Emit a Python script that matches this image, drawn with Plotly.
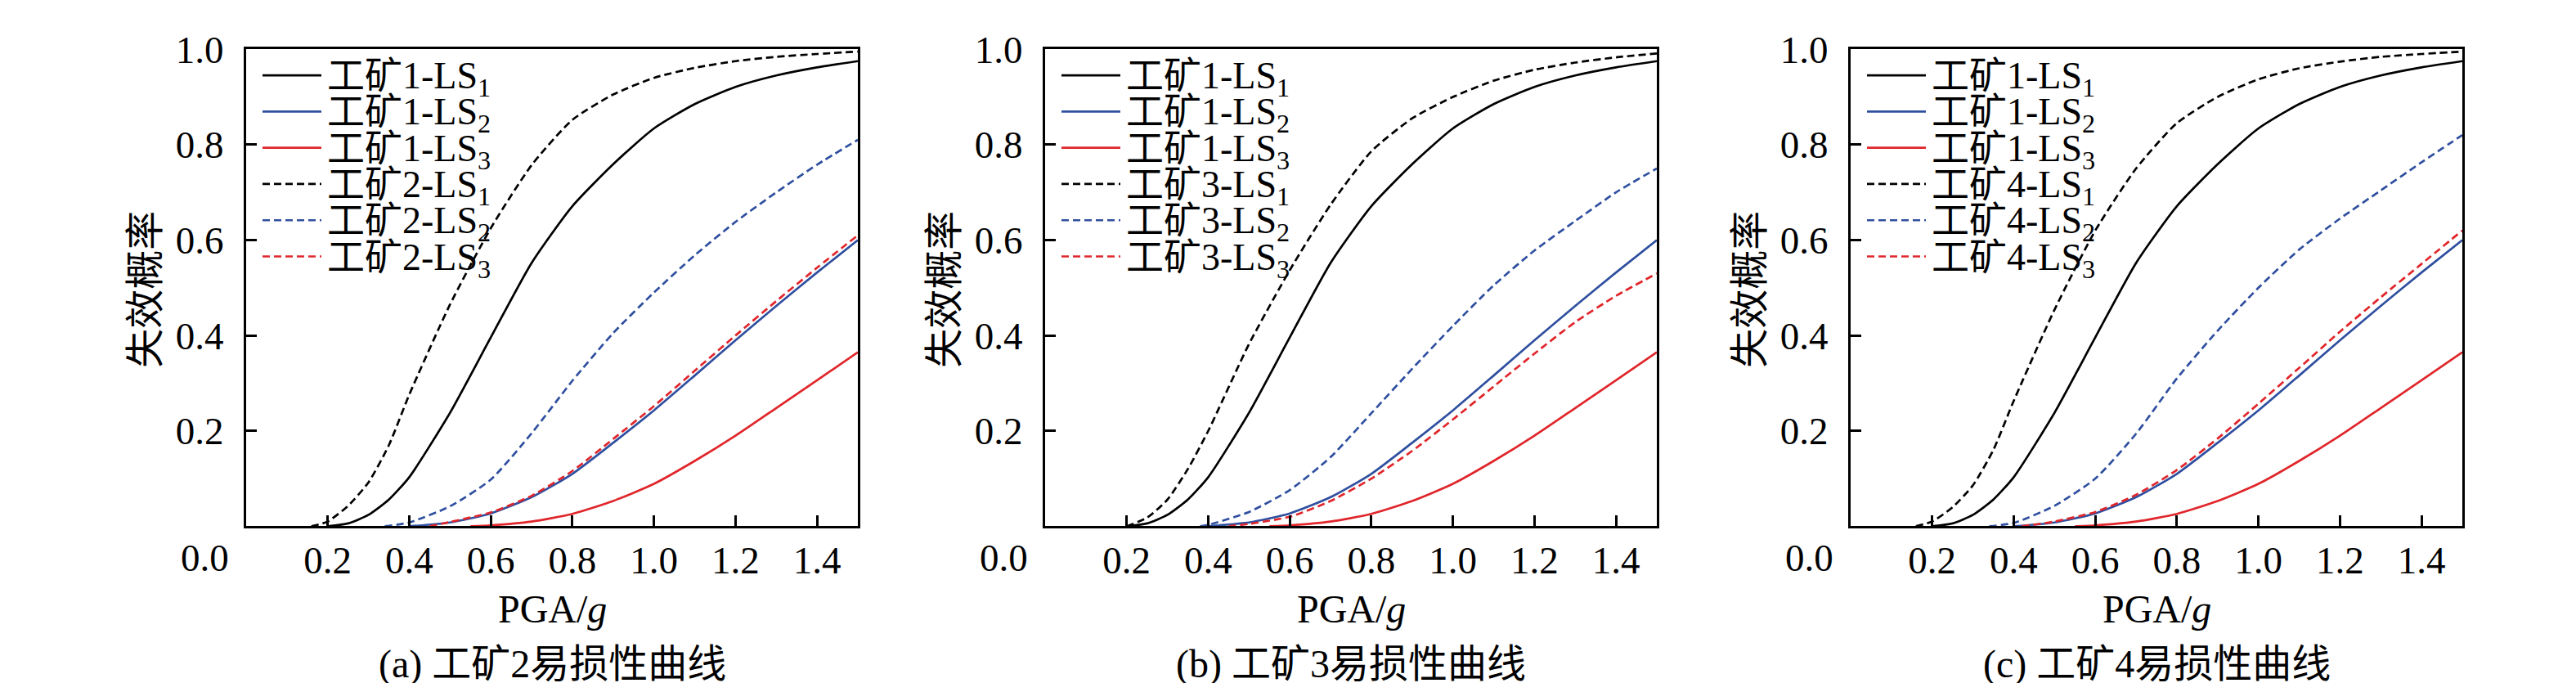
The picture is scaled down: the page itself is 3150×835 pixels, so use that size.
import plotly.graph_objects as go

# ---------------- data ----------------
x_m1_ls1 = [0.2, 0.25, 0.3, 0.35, 0.4, 0.5, 0.6, 0.7, 0.8, 0.9, 1.0, 1.1, 1.2, 1.3, 1.4, 1.5]
y_m1_ls1 = [0.0, 0.006, 0.024, 0.056, 0.103, 0.238, 0.396, 0.552, 0.671, 0.759, 0.834, 0.885, 0.921, 0.945, 0.962, 0.975]
x_m1_ls2 = [0.4, 0.5, 0.6, 0.7, 0.8, 0.9, 1.0, 1.1, 1.2, 1.3, 1.4, 1.5]
y_m1_ls2 = [0.0, 0.008, 0.027, 0.061, 0.11, 0.175, 0.243, 0.316, 0.39, 0.462, 0.532, 0.60]
x_m1_ls3 = [0.55, 0.6, 0.7, 0.8, 0.9, 1.0, 1.1, 1.2, 1.3, 1.4, 1.5]
y_m1_ls3 = [0.0, 0.002, 0.01, 0.026, 0.053, 0.089, 0.137, 0.19, 0.248, 0.306, 0.365]

x_m2_ls1 = [0.16, 0.2, 0.25, 0.3, 0.35, 0.4, 0.5, 0.6, 0.7, 0.8, 0.9, 1.0, 1.1, 1.2, 1.3, 1.4, 1.5]
y_m2_ls1 = [0.0, 0.01, 0.043, 0.092, 0.17, 0.276, 0.465, 0.625, 0.757, 0.852, 0.905, 0.94, 0.961, 0.975, 0.984, 0.99, 0.995]
x_m2_ls2 = [0.34, 0.4, 0.5, 0.6, 0.7, 0.8, 0.9, 1.0, 1.1, 1.2, 1.3, 1.4, 1.5]
y_m2_ls2 = [0.0, 0.008, 0.042, 0.098, 0.195, 0.305, 0.405, 0.49, 0.568, 0.638, 0.70, 0.758, 0.81]
x_m2_ls3 = [0.45, 0.5, 0.6, 0.7, 0.8, 0.9, 1.0, 1.1, 1.2, 1.3, 1.4, 1.5]
y_m2_ls3 = [0.0, 0.009, 0.029, 0.064, 0.116, 0.183, 0.252, 0.326, 0.40, 0.472, 0.542, 0.61]

x_m3_ls1 = [0.2, 0.25, 0.3, 0.35, 0.4, 0.5, 0.6, 0.7, 0.8, 0.9, 1.0, 1.1, 1.2, 1.3, 1.4, 1.5]
y_m3_ls1 = [0.0, 0.018, 0.056, 0.12, 0.20, 0.382, 0.537, 0.674, 0.786, 0.855, 0.90, 0.934, 0.957, 0.972, 0.983, 0.991]
x_m3_ls2 = [0.38, 0.4, 0.5, 0.6, 0.7, 0.8, 0.9, 1.0, 1.1, 1.2, 1.3, 1.4, 1.5]
y_m3_ls2 = [0.0, 0.003, 0.03, 0.076, 0.145, 0.237, 0.33, 0.42, 0.505, 0.578, 0.64, 0.70, 0.75]
x_m3_ls3 = [0.45, 0.5, 0.6, 0.7, 0.8, 0.9, 1.0, 1.1, 1.2, 1.3, 1.4, 1.5]
y_m3_ls3 = [0.0, 0.005, 0.02, 0.053, 0.10, 0.158, 0.224, 0.293, 0.362, 0.428, 0.483, 0.53]

x_m4_ls1 = [0.16, 0.2, 0.25, 0.3, 0.35, 0.4, 0.5, 0.6, 0.7, 0.8, 0.9, 1.0, 1.1, 1.2, 1.3, 1.4, 1.5]
y_m4_ls1 = [0.0, 0.01, 0.04, 0.086, 0.16, 0.263, 0.454, 0.62, 0.75, 0.845, 0.90, 0.937, 0.96, 0.974, 0.984, 0.99, 0.995]
x_m4_ls2 = [0.34, 0.4, 0.5, 0.6, 0.7, 0.8, 0.9, 1.0, 1.1, 1.2, 1.3, 1.4, 1.5]
y_m4_ls2 = [0.0, 0.007, 0.043, 0.10, 0.194, 0.31, 0.41, 0.50, 0.58, 0.645, 0.704, 0.763, 0.82]
x_m4_ls3 = [0.42, 0.5, 0.6, 0.7, 0.8, 0.9, 1.0, 1.1, 1.2, 1.3, 1.4, 1.5]
y_m4_ls3 = [0.0, 0.01, 0.03, 0.066, 0.118, 0.184, 0.257, 0.332, 0.408, 0.48, 0.55, 0.62]

x_tick_vals = [0.2, 0.4, 0.6, 0.8, 1.0, 1.2, 1.4]
x_tick_text = ["0.2", "0.4", "0.6", "0.8", "1.0", "1.2", "1.4"]
y_tick_vals = [0.2, 0.4, 0.6, 0.8, 1.0]
y_tick_text = ["0.2", "0.4", "0.6", "0.8", "1.0"]
panel_mines = ["2", "3", "4"]
panel_titles = ["(a) 工矿2易损性曲线", "(b) 工矿3易损性曲线", "(c) 工矿4易损性曲线"]
x_title = "PGA/<i>g</i>"
y_title = "失效概率"

# ---------------- styling ----------------
W, H = 3150, 835
FONT = "Liberation Serif, Noto Sans CJK SC, serif"
BLACK, BLUE, RED = "#000000", "#2f4f9f", "#e0262b"
DASH = "9px,5px"
panel_px = [(293, 1041), (1270, 2018), (2255, 3003)]
top_px, bot_px = 27, 629
TICK_SIZE, TITLE_SIZE, LEG_SIZE = 47, 48, 46

base_series = [
    (x_m1_ls1, y_m1_ls1, BLACK, "solid", "工矿1-LS<sub>1</sub>"),
    (x_m1_ls2, y_m1_ls2, BLUE, "solid", "工矿1-LS<sub>2</sub>"),
    (x_m1_ls3, y_m1_ls3, RED, "solid", "工矿1-LS<sub>3</sub>"),
]
other = {
    "2": [(x_m2_ls1, y_m2_ls1), (x_m2_ls2, y_m2_ls2), (x_m2_ls3, y_m2_ls3)],
    "3": [(x_m3_ls1, y_m3_ls1), (x_m3_ls2, y_m3_ls2), (x_m3_ls3, y_m3_ls3)],
    "4": [(x_m4_ls1, y_m4_ls1), (x_m4_ls2, y_m4_ls2), (x_m4_ls3, y_m4_ls3)],
}

fig = go.Figure()
annotations = []
shapes = []

ydom = [(H - bot_px) / H, (H - top_px) / H]
for i, mine in enumerate(panel_mines):
    k = "" if i == 0 else str(i + 1)
    xa, ya = "x" + k, "y" + k
    series = list(base_series)
    for j, (xs, ys) in enumerate(other[mine]):
        series.append((xs, ys, [BLACK, BLUE, RED][j], DASH, f"工矿{mine}-LS<sub>{j+1}</sub>"))
    for xs, ys, col, dash, name in series:
        fig.add_trace(go.Scatter(
            x=xs, y=ys, mode="lines", name=name, showlegend=False,
            line=dict(color=col, width=2.7, dash=dash, shape="spline", smoothing=0.6),
            xaxis=xa, yaxis=ya, hoverinfo="skip"))
    x0p, x1p = panel_px[i]
    axis_common = dict(
        showline=True, linecolor="black", linewidth=3, mirror=True,
        ticks="inside", ticklen=13, tickwidth=2.6, tickcolor="black",
        showgrid=False, zeroline=False,
        tickfont=dict(family=FONT, size=TICK_SIZE, color="black"),
    )
    fig.layout["xaxis" + k] = dict(
        axis_common, domain=[x0p / W, x1p / W], range=[0, 1.5], anchor=ya,
        tickvals=x_tick_vals, ticktext=x_tick_text, ticklabelstandoff=-2)
    fig.layout["yaxis" + k] = dict(
        axis_common, domain=ydom, range=[0, 1.0], anchor=xa,
        tickvals=y_tick_vals, ticktext=y_tick_text, ticklabelstandoff=15)

    # shared "0.0" corner label (level with the x tick labels)
    annotations.append(dict(
        text="0.0", x=(x0p - 51) / W, y=(H - 669) / H, xref="paper", yref="paper",
        xanchor="center", yanchor="middle", showarrow=False,
        font=dict(family=FONT, size=TICK_SIZE, color="black")))
    cx = (x0p + x1p) / 2 / W
    annotations.append(dict(
        text=x_title, x=cx, y=(H - 733) / H, xref="paper", yref="paper",
        xanchor="center", yanchor="middle", showarrow=False,
        font=dict(family=FONT, size=TITLE_SIZE, color="black")))
    annotations.append(dict(
        text=y_title, x=(x0p - 123) / W, y=(H - 330) / H, xref="paper", yref="paper",
        xanchor="center", yanchor="middle", showarrow=False, textangle=-90,
        font=dict(family=FONT, size=TITLE_SIZE, color="black")))
    annotations.append(dict(
        text=panel_titles[i], x=cx, y=(H - 803) / H, xref="paper", yref="paper",
        xanchor="center", yanchor="middle", showarrow=False,
        font=dict(family=FONT, size=TITLE_SIZE, color="black")))

    # legend (sample line + label) inside each panel
    pw = x1p - x0p
    ph = bot_px - top_px
    for r, (xs, ys, col, dash, name) in enumerate(series):
        ry = 60 + r * 45.7
        yd = (bot_px - ry) / ph
        shapes.append(dict(
            type="line", xref=xa + " domain", yref=ya + " domain",
            x0=20 / pw, x1=92 / pw, y0=yd, y1=yd,
            line=dict(color=col, width=2.7, dash=dash)))
        annotations.append(dict(
            text=name, xref=xa + " domain", yref=ya + " domain",
            x=97 / pw, y=yd, xanchor="left", yanchor="middle", yshift=-4,
            showarrow=False, font=dict(family=FONT, size=LEG_SIZE, color="black")))

fig.update_layout(
    width=W, height=H, margin=dict(l=0, r=0, t=0, b=0),
    paper_bgcolor="white", plot_bgcolor="white",
    annotations=annotations, shapes=shapes, showlegend=False,
)

fig.write_html("out.html")
